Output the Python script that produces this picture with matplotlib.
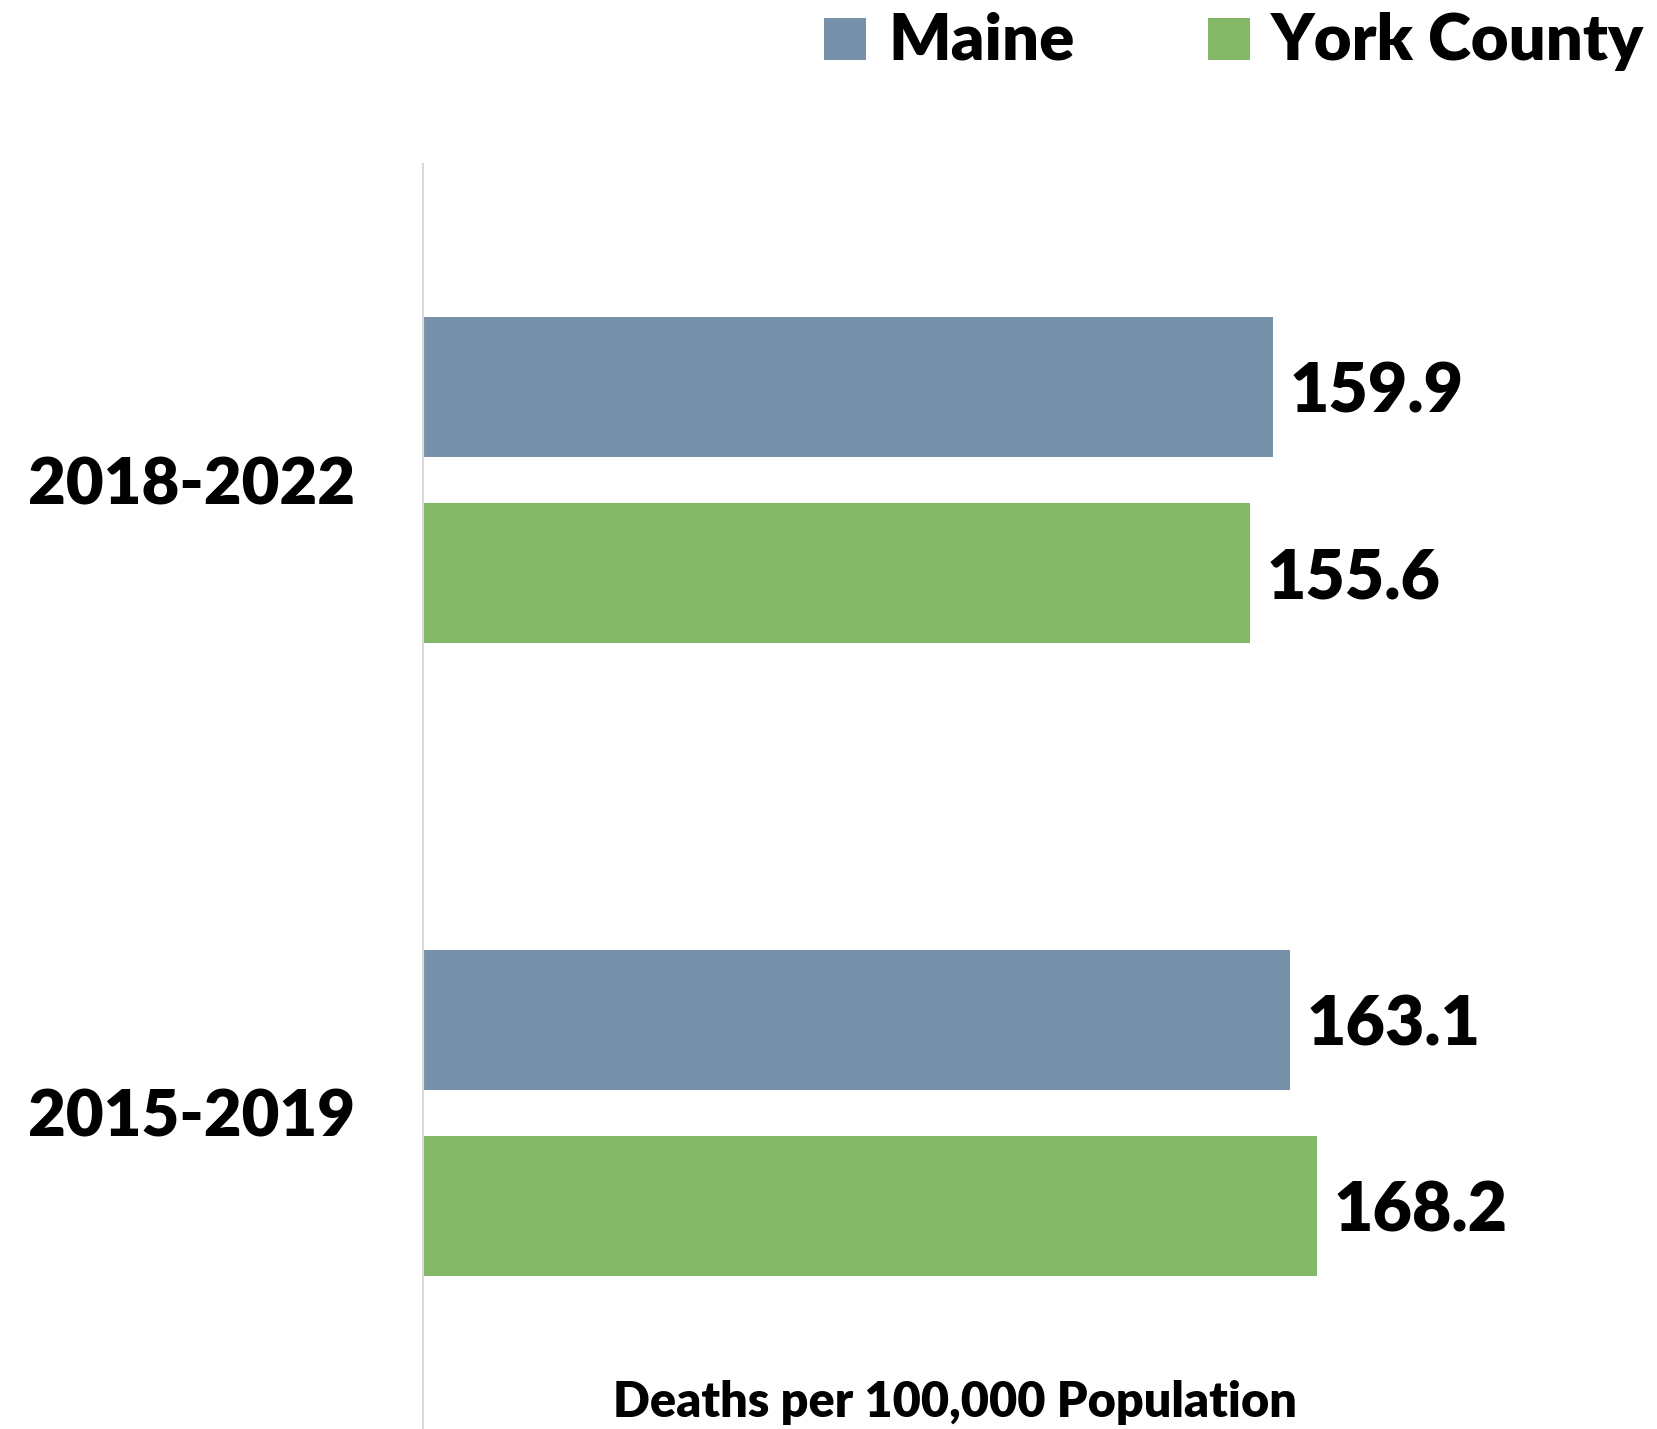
import matplotlib
matplotlib.use('Agg')
import matplotlib.pyplot as plt
from matplotlib.patches import Rectangle

# Mortality rate, deaths per 100,000 population
periods = ['2015-2019', '2018-2022']
maine = [163.1, 159.9]
york = [168.2, 155.6]
series_names = ['Maine', 'York County']
colors = ['#7891AA', '#84B767']

WEIGHT = 'heavy'
plt.rcParams['font.family'] = ['Lato', 'DejaVu Sans']
plt.rcParams['font.weight'] = WEIGHT

W, H = 1657, 1429
fig = plt.figure(figsize=(W / 100, H / 100), dpi=100)
ax = fig.add_axes([423 / W, 0, (1486 - 423) / W, 1265 / H])

bar_h = 0.221
off = 0.147
ypos = list(range(len(periods)))
ax.barh([y + off for y in ypos], maine, height=bar_h, color=colors[0])
ax.barh([y - off for y in ypos], york, height=bar_h, color=colors[1])

for vals, sign in ((maine, 1), (york, -1)):
    for y, v in zip(ypos, vals):
        ax.annotate(f'{v:.1f}', xy=(v, y + sign * off), xytext=(12, 0),
                    textcoords='offset points', ha='left', va='center_baseline',
                    fontsize=49, fontweight=WEIGHT, color='black')

ax.set_xlim(0, 200)
ax.set_ylim(-0.5, 1.5)
ax.set_yticks(ypos, periods, fontsize=47, fontweight=WEIGHT)
ax.tick_params(axis='y', length=0, pad=49)
ax.set_xticks([])
for side in ('top', 'right', 'bottom'):
    ax.spines[side].set_visible(False)
ax.spines['left'].set_color('#D9D9D9')
ax.spines['left'].set_linewidth(1.5)

ax.text(0.5, 12 / 1265, 'Deaths per 100,000 Population', transform=ax.transAxes,
        ha='center', va='baseline', fontsize=35, fontweight=WEIGHT)

# legend drawn by hand at the top right
legend_items = [(824, 888), (1208, 1271)]
for (sq_x, tx_x), name, c in zip(legend_items, series_names, colors):
    fig.add_artist(Rectangle((sq_x / W, 1 - 60 / H), 42 / W, 42 / H,
                             transform=fig.transFigure, facecolor=c, edgecolor='none'))
    fig.text(tx_x / W, 1 - 60 / H, name, ha='left', va='baseline',
             fontsize=47, fontweight=WEIGHT)

fig.savefig('out.png', dpi=100, facecolor='white')
